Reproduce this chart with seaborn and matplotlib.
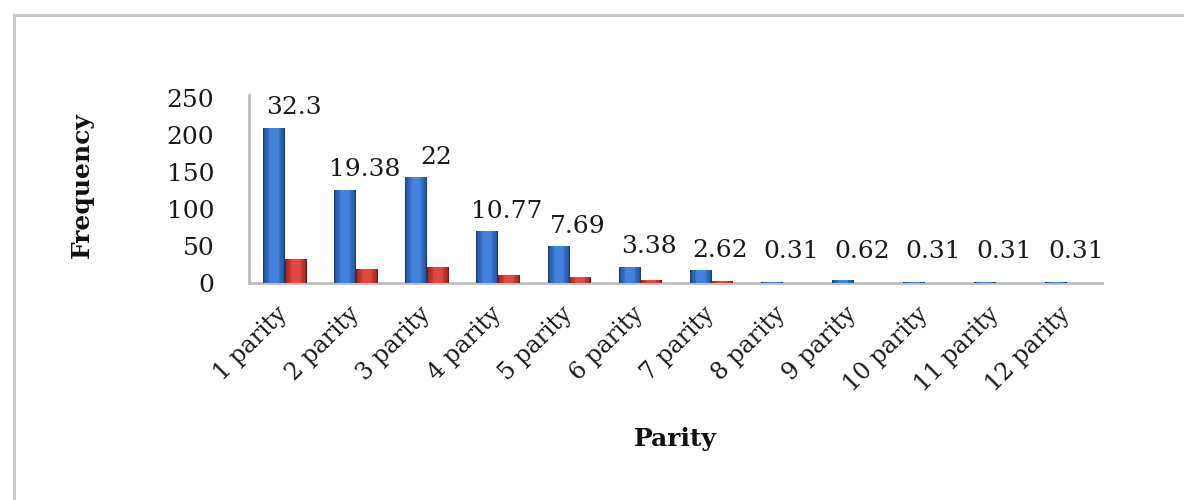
import numpy as np
import pandas as pd
import matplotlib
matplotlib.use("Agg")
import matplotlib.pyplot as plt
import matplotlib.colors as mcolors
from matplotlib.patches import Rectangle
import seaborn as sns

# Parity distribution: counts and share of the sample (%)
categories = ["1 parity", "2 parity", "3 parity", "4 parity", "5 parity", "6 parity",
              "7 parity", "8 parity", "9 parity", "10 parity", "11 parity", "12 parity"]
frequency = [210, 126, 143, 70, 50, 22, 17, 2, 4, 2, 2, 2]
percent = [32.3, 19.38, 22, 10.77, 7.69, 3.38, 2.62, 0.31, 0.62, 0.31, 0.31, 0.31]
y_ticks = [0, 50, 100, 150, 200, 250]

df = pd.DataFrame({
    "parity": categories * 2,
    "series": ["Frequency"] * len(categories) + ["Percent"] * len(categories),
    "value": frequency + percent,
})

sns.set_theme(style="white")
plt.rcParams["font.family"] = ["DejaVu Serif"]

fig = plt.figure(figsize=(11.84, 5.0), dpi=100)
ax = fig.add_axes([249 / 1184, 1 - 283 / 500, (1102 - 249) / 1184, (283 - 98) / 500])

blue = "#2f68bb"
red = "#c0332d"
sns.barplot(data=df, x="parity", y="value", hue="series", palette=[blue, red],
            width=0.6, saturation=1, legend=False, ax=ax, zorder=3)

# Cylinder-like shading across each bar
def shade(base):
    c = np.array(mcolors.to_rgb(base))
    t = np.linspace(0, 1, 64)
    prof = 0.70 + 0.42 * np.sin(np.pi * t) ** 0.6
    prof[:3] = 0.55
    prof[-3:] = 0.55
    cols = np.clip(c[None, :] * prof[:, None] + (prof[:, None] > 1.05) * 0.06, 0, 1)
    return cols[None, :, :]

for patch in ax.patches:
    x0, y0 = patch.get_x(), patch.get_y()
    w, h = patch.get_width(), patch.get_height()
    if h <= 0:
        continue
    base = patch.get_facecolor()
    img = ax.imshow(shade(base), extent=(x0, x0 + w, y0, y0 + h),
                    aspect="auto", zorder=4, interpolation="bilinear")
    img.set_clip_path(patch)
    patch.set_edgecolor("none")

ax.set_xlim(-0.5, len(categories) - 0.5)
ax.set_ylim(0, 250)
ax.set_yticks(y_ticks)
ax.tick_params(axis="y", length=0, pad=25, labelsize=18, labelcolor="#1a1a1a")
ax.tick_params(axis="x", length=0, pad=20, labelsize=17, labelcolor="#1a1a1a")
for lab in ax.get_xticklabels():
    lab.set_rotation(45)
    lab.set_ha("right")
    lab.set_va("center")
    lab.set_rotation_mode("anchor")

ax.set_xlabel("Parity", fontsize=18, fontweight="bold", color="#111111", labelpad=0)
ax.xaxis.set_label_coords(0.5, -0.776)
ax.set_ylabel("Frequency", fontsize=18, fontweight="bold", color="#111111")
ax.yaxis.set_label_coords(-0.182, 0.53)

for side in ["top", "right"]:
    ax.spines[side].set_visible(False)
for side in ["left", "bottom"]:
    ax.spines[side].set_color("#bdbdbd")
    ax.spines[side].set_linewidth(2)
ax.spines["left"].set_bounds(0, 254)

# Percentage labels above each group
for i, (f, p) in enumerate(zip(frequency, percent)):
    ax.text(i + 0.13, max(f, 15) + 27, f"{p:g}", ha="center", va="center",
            fontsize=18, color="#1a1a1a", zorder=6)

# Chart-area frame
fig.patches.append(Rectangle((14 / 1184, -0.05), 1.2, 1 - 15 / 500 + 0.05,
                             transform=fig.transFigure, fill=False,
                             edgecolor="#c8c8c8", linewidth=2.2))

fig.savefig("out.png", dpi=100)
